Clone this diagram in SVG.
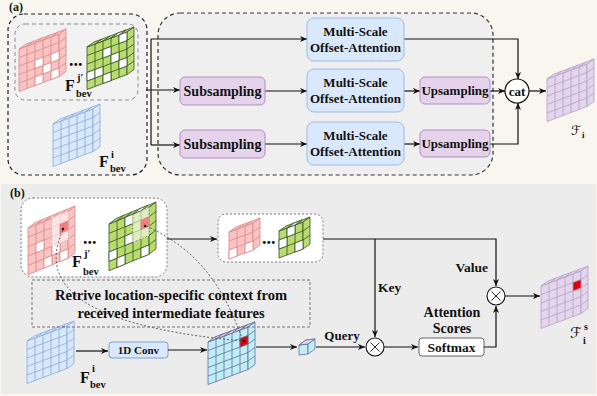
<svg xmlns="http://www.w3.org/2000/svg" xmlns:xlink="http://www.w3.org/1999/xlink" width="597" height="396" viewBox="0 0 597 396">
<defs>
<style>
.lbl{font-family:"Liberation Serif","Times New Roman",serif;font-weight:bold;fill:#111}
.ln{fill:none;stroke:#111;stroke-width:1.2}
.arr{marker-end:url(#ah)}
.nss{vector-effect:non-scaling-stroke}
.sub{fill:#e4d3ea;stroke:#b48ec5;stroke-width:1}
.msoa{fill:#dae8fc;stroke:#9dbbe6;stroke-width:1}
.red{fill:#f7c3c3;stroke:#e08686;stroke-width:0.8}
.grn{fill:#b9dc6c;stroke:#33502a;stroke-width:0.8}
.blu{fill:#dae8fc;stroke:#86a9dd;stroke-width:0.8}
.pur{fill:#e3d6ea;stroke:#b79ccb;stroke-width:0.8}
.cyn{fill:#bdeff7;stroke:#6f6b99;stroke-width:0.8}
.wc{fill:#fff}
.math{font-family:"DejaVu Serif","DejaVu Sans",serif;font-style:normal;fill:#111}
</style>
<marker id="ah" markerWidth="8" markerHeight="8" refX="7" refY="4" orient="auto" markerUnits="userSpaceOnUse">
<path d="M0,1 L7,4 L0,7 L2,4 Z" fill="#111"/>
</marker>
<g id="w5">
<path class="nss" transform="matrix(8,-3,0,8.5,0,0)" d="M0 0H5V5H0Z M1 0V5M2 0V5M3 0V5M4 0V5M0 1H5M0 2H5M0 3H5M0 4H5"/>
<path class="nss" transform="matrix(8,-3,7,-5,0,0)" d="M0 0H5V1H0Z M1 0V1M2 0V1M3 0V1M4 0V1"/>
<path class="nss" transform="matrix(7,-5,0,8.5,40,-15)" d="M0 0H1V5H0Z M0 1H1M0 2H1M0 3H1M0 4H1"/>
</g>
<g id="w3">
<path class="nss" transform="matrix(8,-3,0,9,0,0)" d="M0 0H3V3H0Z M1 0V3M2 0V3M0 1H3M0 2H3"/>
<path class="nss" transform="matrix(8,-3,7,-5,0,0)" d="M0 0H3V1H0Z M1 0V1M2 0V1"/>
<path class="nss" transform="matrix(7,-5,0,9,24,-9)" d="M0 0H1V3H0Z M0 1H1M0 2H1"/>
</g>
<g id="c1">
<path class="nss" transform="matrix(9,-1,0,10,0,0)" d="M0 0H1V1H0Z"/>
<path class="nss" transform="matrix(9,-1,7,-5,0,0)" d="M0 0H1V1H0Z"/>
<path class="nss" transform="matrix(7,-5,0,10,9,-1)" d="M0 0H1V1H0Z"/>
</g>
</defs>

<rect x="0" y="0" width="597" height="396" fill="#f8f6ef"/>
<rect x="1" y="184" width="595" height="210" fill="#ececec"/>

<!-- ===== Panel (a) ===== -->
<text class="lbl" x="9" y="11" font-size="12">(a)</text>

<g id="a-input">
<rect x="8" y="14" width="139" height="161" rx="16" fill="#f2f2f2" stroke="#222" stroke-width="1.2" stroke-dasharray="4 3"/>
<rect x="15" y="24" width="123" height="76" rx="10" fill="#f2f2f2" stroke="#8a8a8a" stroke-width="1" stroke-dasharray="4 3"/>
<use href="#w5" class="red" transform="translate(19,49)"/>
<g class="red" transform="translate(19,49) matrix(8,-3,0,8.5,0,0)">
<rect class="nss wc" x="2" y="2" width="1" height="1"/>
<rect class="nss wc" x="3" y="3" width="1" height="1"/>
<rect class="nss wc" x="4" y="2" width="1" height="1"/>
<rect class="nss wc" x="2" y="4" width="1" height="1"/>
<rect class="nss wc" x="4" y="4" width="1" height="1"/>
</g>
<text class="lbl" x="69" y="66" font-size="18">...</text>
<use href="#w5" class="grn" transform="translate(87,47)"/>
<g class="grn" transform="translate(87,47) matrix(8,-3,0,8.5,0,0)">
<rect class="nss wc" x="2" y="1" width="1" height="1"/>
<rect class="nss wc" x="4" y="0" width="1" height="1"/>
<rect class="nss wc" x="3" y="2" width="1" height="1"/>
<rect class="nss wc" x="0" y="3" width="1" height="1"/>
<rect class="nss wc" x="4" y="3" width="1" height="1"/>
<rect class="nss wc" x="2" y="4" width="1" height="1"/>
<rect class="nss wc" x="1" y="3" width="1" height="1"/>
</g>
<path class="nss wc" transform="translate(87,47) matrix(8,-3,7,-5,0,0)" d="M3 0H4V1H3Z" stroke="#33502a" stroke-width="0.8"/>
<text class="lbl" x="65" y="91" font-size="16">F</text>
<text class="lbl" x="77" y="81" font-size="10.5">j′</text>
<text class="lbl" x="76" y="97" font-size="10.5">bev</text>
<use href="#w5" class="blu" transform="translate(53,124)"/>
<text class="lbl" x="99" y="167" font-size="16">F</text>
<text class="lbl" x="111" y="158" font-size="10.5">i</text>
<text class="lbl" x="110" y="172" font-size="10.5">bev</text>
</g>

<g id="a-branches">
<rect x="158" y="13" width="335" height="162" rx="22" fill="#efefef" stroke="#333" stroke-width="1.2" stroke-dasharray="4 3"/>
</g>

<g id="a-connectors">
<path class="ln" d="M151,39 V145"/>
<path class="ln arr" d="M146,90 H180"/>
<path class="ln arr" d="M151,39 H307"/>
<path class="ln arr" d="M151,145 H180"/>
<path class="ln arr" d="M265,91 H307"/>
<path class="ln arr" d="M265,144 H307"/>
<path class="ln arr" d="M404,91 H420"/>
<path class="ln arr" d="M404,144 H420"/>
<path class="ln arr" d="M404,39 H518 V79"/>
<path class="ln arr" d="M490,91 H505"/>
<path class="ln arr" d="M490,144 H518 V103"/>
<path class="ln arr" d="M529,91 H546"/>
</g>

<g id="a-sub1"><rect class="sub" x="180" y="77" width="85" height="28" rx="5"/><text class="lbl" x="222.5" y="96" font-size="14" text-anchor="middle">Subsampling</text></g>
<g id="a-sub2"><rect class="sub" x="180" y="130" width="85" height="28" rx="5"/><text class="lbl" x="222.5" y="149" font-size="14" text-anchor="middle">Subsampling</text></g>
<g id="a-msoa1"><rect class="msoa" x="307" y="18" width="97" height="43" rx="7"/><text class="lbl" x="355.5" y="36" font-size="13" text-anchor="middle">Multi-Scale</text><text class="lbl" x="355.5" y="52" font-size="13" text-anchor="middle">Offset-Attention</text></g>
<g id="a-msoa2"><rect class="msoa" x="307" y="69" width="97" height="43" rx="7"/><text class="lbl" x="355.5" y="87" font-size="13" text-anchor="middle">Multi-Scale</text><text class="lbl" x="355.5" y="103" font-size="13" text-anchor="middle">Offset-Attention</text></g>
<g id="a-msoa3"><rect class="msoa" x="307" y="122" width="97" height="43" rx="7"/><text class="lbl" x="355.5" y="140" font-size="13" text-anchor="middle">Multi-Scale</text><text class="lbl" x="355.5" y="156" font-size="13" text-anchor="middle">Offset-Attention</text></g>
<g id="a-up1"><rect class="sub" x="420" y="77" width="70" height="27" rx="5"/><text class="lbl" x="455" y="95" font-size="13" text-anchor="middle">Upsampling</text></g>
<g id="a-up2"><rect class="sub" x="420" y="130" width="70" height="27" rx="5"/><text class="lbl" x="455" y="148" font-size="13" text-anchor="middle">Upsampling</text></g>
<g id="a-cat"><circle cx="517" cy="91" r="12" fill="#fff" stroke="#111" stroke-width="1.2"/><text class="lbl" x="517" y="95.5" font-size="13" text-anchor="middle">cat</text></g>
<g id="a-out">
<use href="#w5" class="pur" transform="translate(547,79)"/>
<text class="math" x="571" y="135" font-size="13">ℱ</text>
<text class="lbl" x="582" y="138" font-size="9" font-weight="normal">i</text>
</g>

<!-- ===== Panel (b) ===== -->
<text class="lbl" x="10" y="197" font-size="12">(b)</text>

<g id="b-received">
<rect x="21" y="198" width="146" height="79" rx="12" fill="#fff" stroke="#777" stroke-width="1" stroke-dasharray="2 2"/>
<use href="#w5" class="red" transform="translate(28,228) scale(1,1.1)"/>
<g class="red" transform="translate(28,228) scale(1,1.1) matrix(8,-3,0,8.5,0,0)">
<rect class="nss wc" x="1" y="2" width="1" height="1"/>
<rect class="nss wc" x="3" y="3" width="1" height="1"/>
<rect class="nss wc" x="2" y="4" width="1" height="1"/>
<rect class="nss wc" x="4" y="4" width="1" height="1"/>
<rect class="nss" x="3" y="0" width="2" height="3" fill="#fff" fill-opacity="0.55" stroke="#fff" stroke-dasharray="2 1.5"/>
<rect class="nss" x="4" y="1" width="1" height="1" fill="#f08080" stroke="#e08686"/>
</g>
<text class="lbl" x="83" y="244" font-size="18">...</text>
<use href="#w5" class="grn" transform="translate(109,224) scale(1,1.1)"/>
<g class="grn" transform="translate(109,224) scale(1,1.1) matrix(8,-3,0,8.5,0,0)">
<rect class="nss wc" x="0" y="3" width="1" height="1"/>
<rect class="nss wc" x="2" y="2" width="1" height="1"/>
<rect class="nss wc" x="4" y="4" width="1" height="1"/>
<rect class="nss wc" x="1" y="4" width="1" height="1"/>
<rect class="nss wc" x="2" y="0" width="1" height="1"/>
<rect class="nss" x="3" y="0" width="2" height="3" fill="#fff" fill-opacity="0.55" stroke="#fff" stroke-dasharray="2 1.5"/>
<rect class="nss" x="4" y="1" width="1" height="1" fill="#f08080" stroke="#e08686"/>
</g>
<path class="nss wc" transform="translate(109,224) scale(1,1.1) matrix(8,-3,7,-5,0,0)" d="M3 0H4V1H3Z" stroke="#33502a" stroke-width="0.8"/>
<text class="lbl" x="72" y="267" font-size="16">F</text>
<text class="lbl" x="84" y="257" font-size="10.5">j′</text>
<text class="lbl" x="83" y="275" font-size="10.5">bev</text>
</g>

<g id="b-context">
<rect x="218" y="214" width="105" height="48" rx="8" fill="#fff" stroke="#777" stroke-width="1" stroke-dasharray="2 2"/>
<use href="#w3" class="red" transform="translate(229,232)"/>
<g class="red" transform="translate(229,232) matrix(8,-3,0,9,0,0)">
<rect class="nss wc" x="0" y="2" width="1" height="1"/>
<rect class="nss wc" x="2" y="2" width="1" height="1"/>
</g>
<text class="lbl" x="262" y="244" font-size="18">...</text>
<use href="#w3" class="grn" transform="translate(279,231)"/>
<g class="grn" transform="translate(279,231) matrix(8,-3,0,9,0,0)">
<rect class="nss wc" x="1" y="0" width="1" height="1"/>
<rect class="nss wc" x="0" y="1" width="1" height="1"/>
<rect class="nss wc" x="2" y="2" width="1" height="1"/>
</g>
<path class="nss wc" transform="translate(279,231) matrix(8,-3,7,-5,0,0)" d="M1 0H2V1H1Z" stroke="#33502a" stroke-width="0.8"/>
</g>

<g id="b-ego">
<use href="#w5" class="blu" transform="translate(27,341)"/>
<text class="lbl" x="80" y="383" font-size="16">F</text>
<text class="lbl" x="92" y="372" font-size="10.5">i</text>
<text class="lbl" x="90" y="388" font-size="10.5">bev</text>
</g>

<g id="b-conv"><rect x="109" y="342" width="59" height="16" rx="3" fill="#dae8fc" stroke="#7d9fd3" stroke-width="1"/><text class="lbl" x="138.5" y="354" font-size="11" text-anchor="middle">1D Conv</text></g>

<g id="b-query-map">
<use href="#w5" class="cyn" transform="translate(208,342)"/>
<path class="nss" transform="translate(208,342) matrix(8,-3,7,-5,0,0)" d="M0 0H5V1H0Z M1 0V1M2 0V1M3 0V1M4 0V1" fill="#dcd8f0" stroke="#6f6b99" stroke-width="0.8"/>
<rect class="nss" transform="translate(208,342) matrix(8,-3,0,8.5,0,0)" x="4" y="1" width="1" height="1" fill="#e00000" stroke="#6f6b99" stroke-width="0.8"/>
</g>

<g id="b-query-vec">
<use href="#c1" class="cyn" transform="translate(299,345)"/>
<path class="nss" transform="translate(299,345) matrix(9,-1,7,-5,0,0)" d="M0 0H1V1H0Z" fill="#dcd8f0" stroke="#6f6b99" stroke-width="0.8"/>
</g>

<g id="b-retrieve">
<path d="M63,230 C30,300 120,330 243,341" fill="none" stroke="#555" stroke-width="0.9" stroke-dasharray="2 2"/>
<path d="M146,226 C200,250 225,290 243,341" fill="none" stroke="#555" stroke-width="0.9" stroke-dasharray="2 2"/>
<circle cx="63" cy="229" r="1.2" fill="#111"/>
<circle cx="145" cy="226" r="1.2" fill="#111"/>
<circle cx="244" cy="341" r="1.3" fill="#111"/>
<rect x="32" y="280" width="278" height="47" fill="none" stroke="#666" stroke-width="0.9" stroke-dasharray="3 2"/>
<text class="lbl" x="171" y="300" font-size="14.5" text-anchor="middle">Retrive location-specific context from</text>
<text class="lbl" x="171" y="318" font-size="14.5" text-anchor="middle">received intermediate features</text>
</g>

<g id="b-mul1"><circle cx="375" cy="347" r="9" fill="#fff" stroke="#111" stroke-width="1.1"/><path d="M370.5,342.5 L379.5,351.5 M379.5,342.5 L370.5,351.5" stroke="#111" stroke-width="0.9"/></g>
<g id="b-mul2"><circle cx="496" cy="296" r="9" fill="#fff" stroke="#111" stroke-width="1.1"/><path d="M491.5,291.5 L500.5,300.5 M500.5,291.5 L491.5,300.5" stroke="#111" stroke-width="0.9"/></g>
<g id="b-softmax"><rect x="419" y="338" width="65" height="18" rx="3" fill="#fff" stroke="#666" stroke-width="1"/><text class="lbl" x="451.5" y="352" font-size="13.5" text-anchor="middle">Softmax</text></g>

<g id="b-out">
<use href="#w5" class="pur" transform="translate(541,286)"/>
<rect class="nss" transform="translate(541,286) matrix(8,-3,0,8.5,0,0)" x="4" y="1" width="1" height="1" fill="#e00000" stroke="#b79ccb" stroke-width="0.8"/>
<text class="math" x="570" y="338" font-size="15">ℱ</text>
<text class="lbl" x="584" y="330" font-size="10" font-weight="normal">s</text>
<text class="lbl" x="583" y="344" font-size="10" font-weight="normal">i</text>
</g>

<g id="b-connectors">
<path class="ln arr" d="M167,239 H217"/>
<path class="ln arr" d="M323,239 H496 V286"/>
<path class="ln arr" d="M375,239 V337"/>
<path class="ln arr" d="M76,351 H108"/>
<path class="ln arr" d="M168,350 H207"/>
<path class="ln arr" d="M256,347 H297"/>
<path class="ln arr" d="M316,347 H365"/>
<path class="ln arr" d="M384,347 H418"/>
<path class="ln arr" d="M484,347 H496 V306"/>
<path class="ln arr" d="M505,296 H540"/>
<text class="lbl" x="378" y="292" font-size="13.5">Key</text>
<text class="lbl" x="342" y="340" font-size="13" text-anchor="middle">Query</text>
<text class="lbl" x="488" y="272" font-size="13.5" text-anchor="end">Value</text>
<text class="lbl" x="452" y="317" font-size="14" text-anchor="middle">Attention</text>
<text class="lbl" x="452" y="333" font-size="14" text-anchor="middle">Scores</text>
</g>
</svg>
